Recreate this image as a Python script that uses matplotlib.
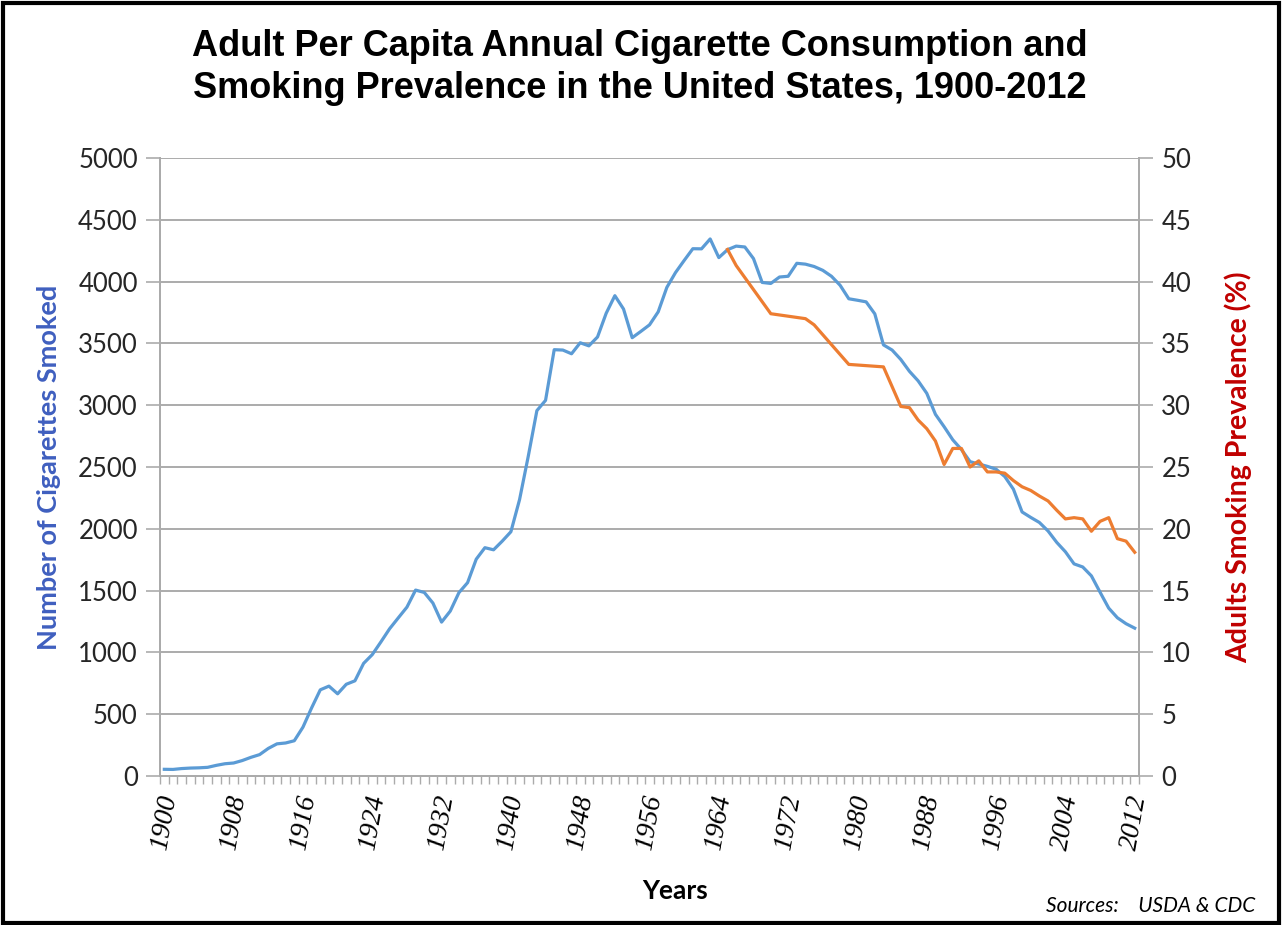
import matplotlib
matplotlib.use('Agg')
import matplotlib.pyplot as plt
import numpy as np
from matplotlib.patches import Rectangle

# per capita cigarette consumption, one value per year 1900-2012
years = list(range(1900, 2013))
cigs = [54, 53, 60, 64, 66, 70, 86, 99, 105, 125,
        151, 173, 223, 260, 267, 285, 395, 551, 697, 727,
        665, 742, 770, 911, 982, 1085, 1191, 1279, 1366, 1504,
        1485, 1399, 1245, 1334, 1483, 1564, 1754, 1847, 1830, 1900,
        1976, 2236, 2585, 2956, 3039, 3449, 3446, 3416, 3505, 3480,
        3552, 3744, 3886, 3778, 3546, 3597, 3650, 3755, 3953, 4073,
        4171, 4266, 4265, 4345, 4194, 4258, 4287, 4280, 4186, 3993,
        3985, 4037, 4043, 4148, 4141, 4122, 4091, 4043, 3970, 3861,
        3849, 3836, 3739, 3488, 3446, 3370, 3274, 3197, 3096, 2926,
        2826, 2720, 2641, 2543, 2524, 2505, 2482, 2423, 2320, 2136,
        2092, 2051, 1982, 1890, 1814, 1716, 1691, 1619, 1487, 1358,
        1280, 1232, 1196]

# adult smoking prevalence (%), survey years only
prev_years = [1965, 1966, 1970, 1974, 1975, 1979, 1983, 1985] + list(range(1986, 2013))
prev_pct = [42.6, 41.3, 37.4, 37.0, 36.5, 33.3, 33.1, 29.9,
            29.8, 28.8, 28.1, 27.1, 25.2, 26.5, 26.5, 25.0, 25.5, 24.6,
            24.6, 24.5, 23.9, 23.4, 23.1, 22.65, 22.25, 21.5, 20.8, 20.9,
            20.8, 19.8, 20.6, 20.9, 19.2, 19.0, 18.1]

label_years = list(range(1900, 2013, 8))

gridc = '#ABABAB'
fig = plt.figure(figsize=(12.83, 9.25), dpi=100)
ax = fig.add_axes([0.1247, 0.1611, 0.7631, 0.6681])
ax2 = ax.twinx()

ax.plot(years, cigs, color='#5B9BD5', lw=2.3, solid_joinstyle='round', zorder=3)
ax2.plot(prev_years, prev_pct, color='#ED7D31', lw=2.3, solid_joinstyle='round', zorder=3)

ax.set_xlim(1899.5, 2012.5)
ax.set_ylim(0, 5000)
ax2.set_ylim(0, 50)
ax.set_yticks(np.arange(0, 5001, 500))
ax2.set_yticks(np.arange(0, 51, 5))
ax.grid(axis='y', color=gridc, lw=1.4)
ax.set_axisbelow(True)

ax.set_xticks(label_years)
ax.set_xticks(np.arange(1899.5, 2013, 1), minor=True)
ax.set_xticklabels([str(y) for y in label_years], rotation=80,
                   family='Liberation Serif', style='italic', fontsize=20)
ax.tick_params(axis='x', which='major', length=0, pad=12)
ax.tick_params(axis='x', which='minor', length=6, color=gridc, width=1)

for a in (ax, ax2):
    for s in a.spines.values():
        s.set_color(gridc)
        s.set_linewidth(1.4)
    a.spines['top'].set_visible(False)
ax.tick_params(axis='y', length=10, color=gridc, width=1.2, pad=6)
ax2.tick_params(axis='y', length=10, color=gridc, width=1.2, pad=6)
for lab in ax.get_yticklabels() + ax2.get_yticklabels():
    lab.set_family('Lato')
    lab.set_fontsize(18.5)
    lab.set_color('#262626')

ax.set_ylabel('Number of Cigarettes Smoked', family='Lato', fontweight='bold',
              fontsize=19.5, color='#3F5FBF', labelpad=12)
ax2.set_ylabel('Adults Smoking Prevalence (%)', family='Lato', fontweight='bold',
               fontsize=20.5, color='#C00000', labelpad=24)

fig.text(0.499, 0.927, 'Adult Per Capita Annual Cigarette Consumption and\n'
         'Smoking Prevalence in the United States, 1900-2012',
         ha='center', va='center', family='Liberation Sans', fontweight='bold',
         fontsize=26, linespacing=1.25)
fig.text(0.526, 0.037, 'Years', ha='center', va='center', family='Lato',
         fontweight='bold', fontsize=19)
fig.text(0.978, 0.021, 'Sources:    USDA & CDC', ha='right', va='center',
         family='Lato', style='italic', fontsize=15)

fig.patches.append(Rectangle((0.002, 0.002), 0.995, 0.995, transform=fig.transFigure,
                             fill=False, edgecolor='black', lw=3))

plt.savefig('out.png', dpi=100)
plt.close()
